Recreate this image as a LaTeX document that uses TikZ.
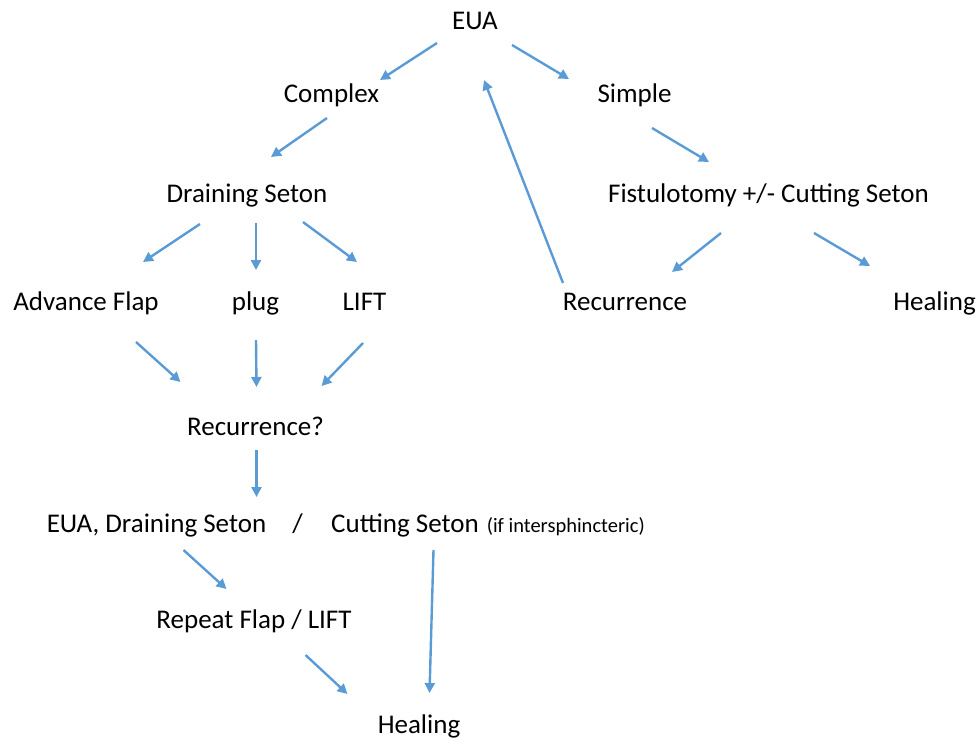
\documentclass[tikz,border=0pt]{standalone}
\usepackage{fontspec}
\setmainfont{Carlito}
\usepackage{tikz}
\usetikzlibrary{arrows.meta,positioning}
\definecolor{arrowblue}{RGB}{91,155,213}

\begin{document}
\begin{tikzpicture}[x=1pt,y=1pt]
	\tikzstyle{lbl}=[inner sep=0pt, text height=19pt, text depth=6pt, font=\fontsize{27}{32}\selectfont, text centered]
	\tikzstyle{arr}=[draw=arrowblue, line width=2.4pt, -{Triangle[length=10pt,width=10pt]}, arrowblue]
	\tikzset{on grid}
	\useasboundingbox (0,0) rectangle (976,-740);

	\node[lbl] (eua) at (475,-22.5) {EUA};
	\node[lbl] (complex) [below left=73pt and 143.5pt of eua] {Complex};
	\node[lbl] (simple) [below right=73pt and 159.5pt of eua] {Simple};
	\node[lbl] (draining) [below left=100pt and 84.5pt of complex] {Draining Seton};
	\node[lbl] (fist) [below right=100pt and 134pt of simple] {Fistulotomy +/- Cutting Seton};
	\node[lbl] (plug) [below right=108pt and 8.5pt of draining] {plug};
	\node[lbl] (flap) [left=169.5pt of plug] {Advance Flap};
	\node[lbl] (lift) [right=109pt of plug] {LIFT};
	\node[lbl] (recur) [below left=108pt and 143.5pt of fist] {Recurrence};
	\node[lbl] (heal) [below right=108pt and 166pt of fist] {Healing};
	\node[lbl] (recurq) [below=125pt of plug] {Recurrence?};
	\node[lbl] (euadrain) [below left=97pt and 99pt of recurq] {EUA, Draining Seton};
	\node[lbl] (slash) [right=141pt of euadrain] {/};
	\node[lbl] (cutting) [right=190.5pt of slash] {Cutting Seton\hspace{8pt}{\fontsize{20.5}{24}\selectfont(if intersphincteric)}};
	\node[lbl] (repeat) [below right=96pt and 97.5pt of euadrain] {Repeat Flap / LIFT};
	\node[lbl] (healend) [below right=105pt and 165pt of repeat] {Healing};

	% top part
	\draw[arr] ([xshift=-38pt,yshift=-20.5pt]eua.center) -- ([xshift=48.5pt,yshift=15.5pt]complex.center);
	\draw[arr] ([xshift=37pt,yshift=-22.5pt]eua.center) -- ([xshift=-65.5pt,yshift=16.5pt]simple.center);
	\draw[arr] ([xshift=-4.5pt,yshift=-22.5pt]complex.center) -- ([xshift=24pt,yshift=38.5pt]draining.center);
	\draw[arr] ([xshift=17.5pt,yshift=-32.5pt]simple.center) -- ([xshift=-59.5pt,yshift=33.5pt]fist.center);
	\draw[arr] ([xshift=-62pt,yshift=20.5pt]recur.center) -- ([xshift=9pt,yshift=-57.5pt]eua.center);
	\draw[arr] ([xshift=-47pt,yshift=-28.5pt]draining.center) -- ([xshift=57pt,yshift=41.5pt]flap.center);
	\draw[arr] ([xshift=9pt,yshift=-27.5pt]draining.center) -- ([xshift=0.5pt,yshift=33.5pt]plug.center);
	\draw[arr] ([xshift=56pt,yshift=-26.5pt]draining.center) -- ([xshift=-7.5pt,yshift=41.5pt]lift.center);
	\draw[arr] ([xshift=-47.5pt,yshift=-37.5pt]fist.center) -- ([xshift=47pt,yshift=31.5pt]recur.center);
	\draw[arr] ([xshift=45.5pt,yshift=-37.5pt]fist.center) -- ([xshift=-64.5pt,yshift=37.5pt]heal.center);

	% bottom part
	\draw[arr] ([xshift=50pt,yshift=-38.5pt]flap.center) -- ([xshift=-75pt,yshift=46.5pt]recurq.center);
	\draw[arr] ([xshift=0.5pt,yshift=-36.5pt]plug.center) -- ([xshift=1pt,yshift=41.5pt]recurq.center);
	\draw[arr] ([xshift=-1.5pt,yshift=-39.5pt]lift.center) -- ([xshift=66pt,yshift=42.5pt]recurq.center);
	\draw[arr] ([xshift=1pt,yshift=-21.5pt]recurq.center) -- ([xshift=100pt,yshift=28.5pt]euadrain.center);
	\draw[arr] ([xshift=27pt,yshift=-24.5pt]euadrain.center) -- ([xshift=-27.5pt,yshift=32.5pt]repeat.center);
	\draw[arr] ([xshift=-54.5pt,yshift=-24.5pt]cutting.center) -- ([xshift=10.5pt,yshift=33.5pt]healend.center);
	\draw[arr] ([xshift=51.5pt,yshift=-33.5pt]repeat.center) -- ([xshift=-71.5pt,yshift=32.5pt]healend.center);
\end{tikzpicture}
\end{document}
